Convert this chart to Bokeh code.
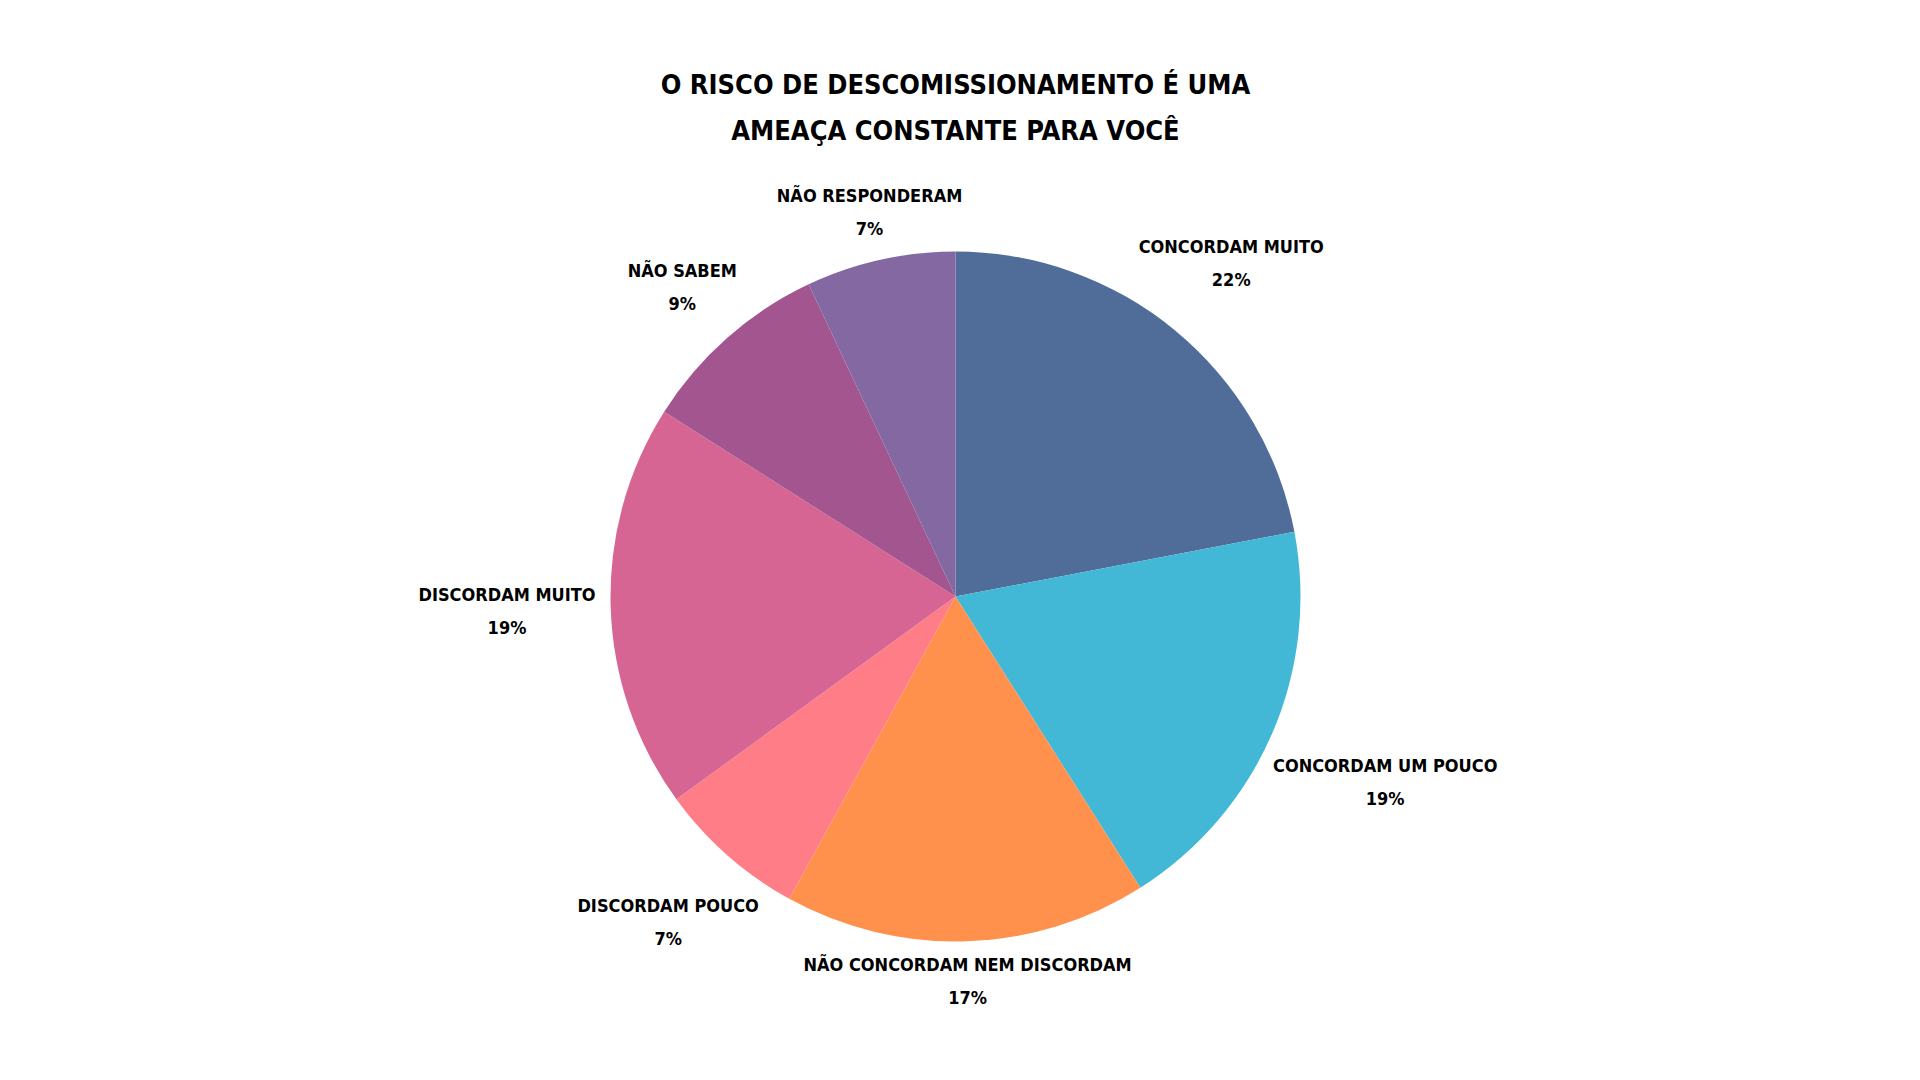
import numpy as np
from bokeh.plotting import figure
from bokeh.models import ColumnDataSource, Range1d
from bokeh.core.properties import value
from bokeh.embed import file_html
from bokeh.resources import INLINE

TITLE_LINES = ["O RISCO DE DESCOMISSIONAMENTO É UMA", "AMEAÇA CONSTANTE PARA VOCÊ"]
CATEGORIES = ["CONCORDAM MUITO", "CONCORDAM UM POUCO", "NÃO CONCORDAM NEM DISCORDAM",
              "DISCORDAM POUCO", "DISCORDAM MUITO", "NÃO SABEM", "NÃO RESPONDERAM"]
PERCENTS = [22, 19, 17, 7, 19, 9, 7]
COLORS = ["#4F6D98", "#42B8D6", "#FF914D", "#FF7D87", "#D66594", "#A3558F", "#8368A2"]

W, H = 1904, 1064
CX, CY, R = 955, 468, 345
FONT = "'DejaVu Sans Condensed', 'DejaVu Sans', sans-serif"
LABEL_SIZE = 18
TITLE_SIZE = 27

p = figure(width=W, height=H, x_range=Range1d(0, W), y_range=Range1d(0, H),
           output_backend="svg", toolbar_location=None, min_border=0)
p.axis.visible = False
p.grid.visible = False
p.outline_line_color = None
p.background_fill_color = "white"
p.border_fill_color = "white"

n = len(PERCENTS)
frac = np.array(PERCENTS, dtype=float) / sum(PERCENTS)
cum = np.concatenate([[0.0], np.cumsum(frac)])
start = np.pi / 2 - 2 * np.pi * cum[:-1]
end = np.pi / 2 - 2 * np.pi * cum[1:]
src = ColumnDataSource(dict(x=[CX] * n, y=[CY] * n, start=start, end=end, color=COLORS))
p.wedge(x="x", y="y", radius=R, start_angle="start", end_angle="end", direction="clock",
        fill_color="color", line_color=None, source=src)

# outside-end label placement: box centred on mid-angle ray, nearest edge at R + gap
gap = 12
bh = 27.5
lx, ly1, ly2, t1, t2 = [], [], [], [], []
for i in range(n):
    th = 2 * np.pi * (cum[i] + cum[i + 1]) / 2
    ux, uy = np.sin(th), np.cos(th)
    bw = 6.1 * len(CATEGORIES[i])
    lo, hi = 0.0, 2000.0
    for _ in range(60):
        t = (lo + hi) / 2
        dx = max(abs(ux * t) - bw, 0)
        dy = max(abs(uy * t) - bh, 0)
        if np.hypot(dx, dy) < R + gap:
            lo = t
        else:
            hi = t
    cx, cy = CX + t * ux, CY + t * uy
    lx.append(cx)
    ly1.append(cy + 16.5)
    ly2.append(cy - 16.5)
    t1.append(CATEGORIES[i])
    t2.append(f"{PERCENTS[i]}%")

lsrc = ColumnDataSource(dict(x=lx + lx, y=ly1 + ly2, t=t1 + t2))
p.text(x="x", y="y", text="t", source=lsrc, text_align="center", text_baseline="middle",
       text_font=value(FONT), text_font_style="bold", text_font_size=f"{LABEL_SIZE}px",
       text_color="black")

tsrc = ColumnDataSource(dict(x=[CX, CX], y=[H - 83.5, H - 129.5], t=TITLE_LINES))
p.text(x="x", y="y", text="t", source=tsrc, text_align="center", text_baseline="middle",
       text_font=value(FONT), text_font_style="bold", text_font_size=f"{TITLE_SIZE}px",
       text_color="black")

open("out.html", "w").write(file_html(p, INLINE))
